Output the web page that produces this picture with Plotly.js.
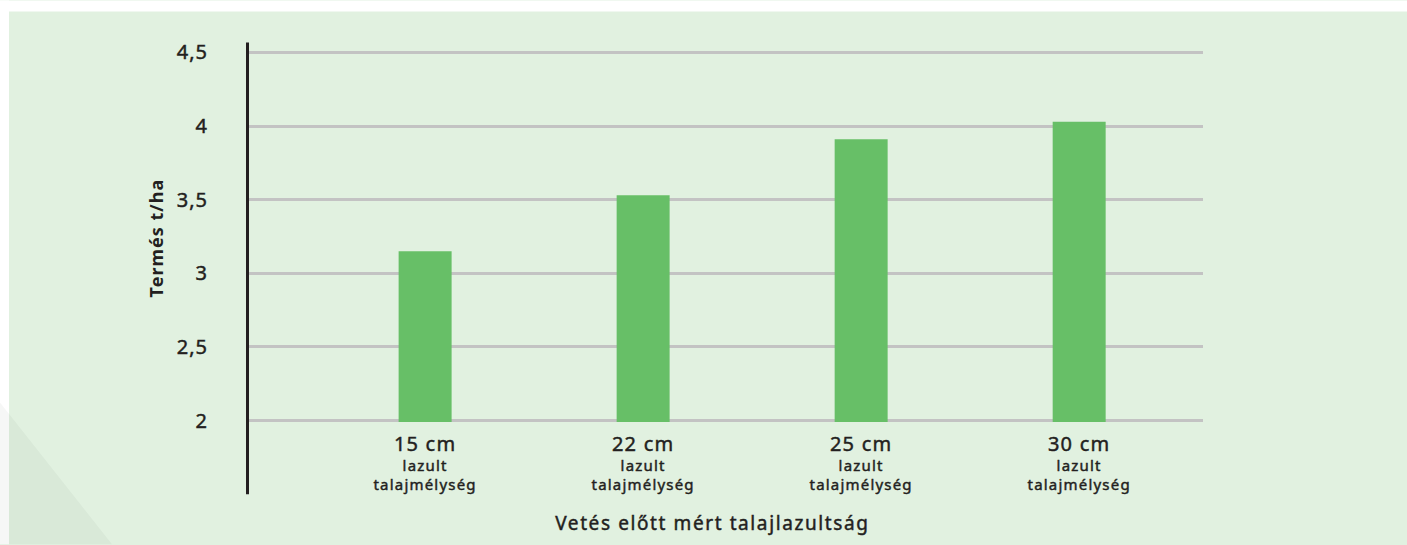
<!DOCTYPE html>
<html>
<head>
<meta charset="utf-8">
<script src="https://cdn.plot.ly/plotly-3.0.1.min.js"></script>
<style>
html,body{margin:0;padding:0;background:#ffffff;}
#chart{width:1407px;height:545px;}
#chart .xtick text{letter-spacing:1.2px;stroke:#231f20;stroke-width:0.45px;}
#chart .ytick text{letter-spacing:1px;stroke:#231f20;stroke-width:0.45px;}
#chart g.annotation[data-index="0"] text{letter-spacing:1px;}
#chart g.annotation[data-index="1"] text{letter-spacing:1.6px;stroke:#231f20;stroke-width:0.45px;}
</style>
</head>
<body>
<div id="chart"></div>
<script>
const depths = ["15 cm", "22 cm", "25 cm", "30 cm"];
const subLine1 = "lazult";
const subLine2 = "talajmélység";
const yields = [3.15, 3.53, 3.91, 4.03];
const yTicks = [2, 2.5, 3, 3.5, 4, 4.5];
const yTitle = "Termés t/ha";
const xTitle = "Vetés előtt mért talajlazultság";

const W = 1407, H = 545;
// plot area: 2.0 -> y=421, 4.5 -> y=52 ; range padded by 0.01 so edge grid lines show
const yMin = 1.99, yMax = 4.51;
const pxPerUnit = (421 - 52) / 2.5;
const L = 247, R = 204;
const T = 52 - (yMax - 4.5) * pxPerUnit;
const B = H - (421 + (2 - yMin) * pxPerUnit);
const PW = W - L - R, PH = H - T - B;
const px = p => (p - L) / PW;
const py = p => (H - B - p) / PH;

const textColor = "#231f20";
const font = "Noto Sans, Open Sans, sans-serif";

const tickText = depths.map(d =>
  "<span style='font-size:20px'>" + d + "</span><br><span style='font-size:15px'>" + subLine1 +
  "</span><br><span style='font-size:15px'>" + subLine2 + "</span>");

const trace = {
  type: "bar",
  x: depths,
  y: yields,
  width: 0.243,
  marker: {color: "#67bf67", line: {width: 0}},
  hoverinfo: "x+y"
};

const layout = {
  width: W, height: H,
  margin: {l: L, r: R, t: T, b: B, pad: 0},
  paper_bgcolor: "#e1f1e0",
  plot_bgcolor: "rgba(0,0,0,0)",
  separators: ",.",
  showlegend: false,
  font: {family: font, color: textColor},
  xaxis: {
    type: "category",
    range: [-0.817, 3.568],
    tickmode: "array",
    tickvals: depths,
    ticktext: tickText,
    tickfont: {family: font, size: 15, color: textColor},
    ticks: "outside", ticklen: 10, tickcolor: "rgba(0,0,0,0)",
    showgrid: false, zeroline: false, showline: false,
    fixedrange: true, automargin: false
  },
  yaxis: {
    range: [yMin, yMax],
    tickmode: "array",
    tickvals: yTicks,
    tickfont: {family: font, size: 20, color: textColor},
    ticks: "outside", ticklen: 34, tickcolor: "rgba(0,0,0,0)",
    showgrid: true, gridcolor: "#c3c3c3", gridwidth: 3,
    zeroline: false, showline: false,
    fixedrange: true, automargin: false
  },
  shapes: [
    {type: "rect", xref: "paper", yref: "paper", layer: "below",
     x0: px(0), x1: px(9), y0: py(H), y1: py(0),
     fillcolor: "#ffffff", line: {width: 0}},
    {type: "rect", xref: "paper", yref: "paper", layer: "below",
     x0: px(0), x1: px(W), y0: py(11), y1: py(0),
     fillcolor: "#ffffff", line: {width: 0}},
    {type: "path", xref: "paper", yref: "paper", layer: "below",
     path: "M " + px(0) + " " + py(403) + " L " + px(112) + " " + py(H) +
           " L " + px(0) + " " + py(H) + " Z",
     fillcolor: "rgba(0,40,0,0.035)", line: {width: 0}},
    {type: "line", xref: "paper", yref: "paper", layer: "above",
     x0: px(247.5), x1: px(247.5), y0: py(495), y1: py(42),
     line: {color: textColor, width: 3}}
  ],
  annotations: [
    {text: yTitle, xref: "paper", yref: "paper", x: px(156), y: py(238),
     xanchor: "center", yanchor: "middle", textangle: -90, showarrow: false,
     font: {family: font, size: 18, color: textColor, weight: 700}},
    {text: xTitle, xref: "paper", yref: "paper", x: px(712), y: py(524),
     xanchor: "center", yanchor: "middle", showarrow: false,
     font: {family: font, size: 19, color: textColor}}
  ]
};

Plotly.newPlot("chart", [trace], layout, {displayModeBar: false, staticPlot: true});
</script>
</body>
</html>
